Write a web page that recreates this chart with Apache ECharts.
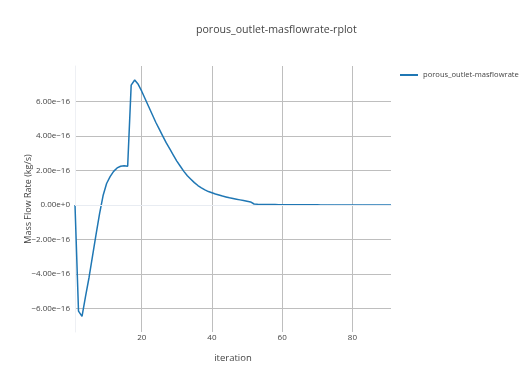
<!DOCTYPE html>
<html>
<head>
<meta charset="utf-8">
<script src="https://cdn.jsdelivr.net/npm/echarts@6/dist/echarts.min.js"></script>
<style>
html,body{margin:0;padding:0;background:#fff;}
#chart{width:520px;height:387px;}
</style>
</head>
<body>
<div id="chart"></div>
<script>
// iteration numbers
const iterations = [];
for (let i = 1; i <= 91; i++) iterations.push(i);
// Mass flow rate, in units of 1e-16 kg/s
const massFlowE16 = [
  0, -6.15, -6.45, -5.3, -4.2, -2.95, -1.7, -0.5, 0.55, 1.25,
  1.65, 1.95, 2.15, 2.25, 2.28, 2.25, 6.95, 7.25, 7.0, 6.6,
  6.15, 5.7, 5.25, 4.8, 4.4, 4.0, 3.6, 3.25, 2.9, 2.55,
  2.25, 1.95, 1.7, 1.5, 1.3, 1.13, 1.0, 0.88, 0.78, 0.71,
  0.64, 0.58, 0.52, 0.47, 0.42, 0.38, 0.34, 0.3, 0.26, 0.22,
  0.18, 0.06, 0.04, 0.035, 0.03, 0.03, 0.025, 0.025, 0.02, 0.02,
  0.02, 0.018, 0.016, 0.015, 0.014, 0.013, 0.012, 0.011, 0.01, 0.01,
  0.009, 0.009, 0.008, 0.008, 0.007, 0.007, 0.006, 0.006, 0.006, 0.005,
  0.005, 0.005, 0.004, 0.004, 0.004, 0.004, 0.003, 0.003, 0.003, 0.003,
  0.003
];
const xTicks = [20, 40, 60, 80];
const yTicks = [-6, -4, -2, 0, 2, 4, 6];
const seriesName = 'porous_outlet-masflowrate';
const titleText = 'porous_outlet-masflowrate-rplot';

function fmtY(v) {
  if (Math.abs(v) < 1e-9) return '0.00e+0';
  const s = Math.abs(v).toFixed(2) + 'e\u221216';
  return v < 0 ? '\u2212' + s : s;
}

const FONT = '"Open Sans", "Noto Sans", sans-serif';
const chart = echarts.init(document.getElementById('chart'), null, {renderer: 'canvas'});
chart.setOption({
  animation: false,
  backgroundColor: '#fff',
  textStyle: {fontFamily: FONT},
  title: {
    text: titleText,
    left: 196, top: 24, padding: 0,
    textStyle: {fontFamily: FONT, fontSize: 10.6, fontWeight: 'normal', color: '#444'}
  },
  legend: {
    left: 400, top: 71, padding: 0,
    itemWidth: 18, itemHeight: 2, itemGap: 4,
    icon: 'rect',
    textStyle: {fontFamily: FONT, fontSize: 7.6, color: '#444'},
    data: [seriesName]
  },
  grid: {left: 75, right: 129, top: 66, bottom: 55, containLabel: false},
  xAxis: {
    type: 'value',
    min: 1, max: 91,
    name: 'iteration',
    nameLocation: 'middle',
    nameGap: 21,
    nameMoveOverlap: false,
    nameTextStyle: {fontFamily: FONT, fontSize: 9.5, color: '#444'},
    axisLine: {show: true, lineStyle: {color: '#eef0f4', width: 1}},
    axisTick: {show: false, customValues: xTicks},
    axisLabel: {customValues: xTicks, fontFamily: FONT, fontSize: 8, color: '#444', margin: 2},
    splitLine: {show: true, lineStyle: {color: '#bebebe', width: 1}}
  },
  yAxis: {
    type: 'value',
    min: -7.36, max: 8.06,
    name: 'Mass Flow Rate (kg/s)',
    nameLocation: 'middle',
    nameGap: 42,
    nameMoveOverlap: false,
    nameTextStyle: {fontFamily: FONT, fontSize: 9, color: '#444'},
    axisLine: {show: true, lineStyle: {color: '#eef0f4', width: 1}},
    axisTick: {show: false, customValues: yTicks},
    axisLabel: {customValues: yTicks, formatter: fmtY, fontFamily: FONT, fontSize: 8, color: '#444', margin: 5},
    splitLine: {show: true, lineStyle: {color: '#bebebe', width: 1}}
  },
  series: [{
    name: seriesName,
    type: 'line',
    data: iterations.map((x, i) => [x, massFlowE16[i]]),
    showSymbol: false,
    symbol: 'none',
    lineStyle: {color: '#1f77b4', width: 1.5},
    itemStyle: {color: '#1f77b4'},
    markLine: {
      silent: true, symbol: 'none', label: {show: false},
      lineStyle: {color: '#e8ecf2', width: 1, type: 'solid'},
      data: [{yAxis: 0}]
    },
    z: 3
  }]
});
</script>
</body>
</html>
